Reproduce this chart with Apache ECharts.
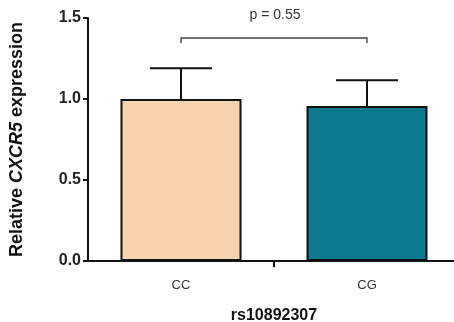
<!DOCTYPE html>
<html><head><meta charset="utf-8">
<script src="https://cdn.jsdelivr.net/npm/echarts@6/dist/echarts.min.js"></script>
<style>html,body{margin:0;padding:0;background:#fff}#c{width:454px;height:322px}</style>
</head><body><div id="c"></div>
<script>
const categories = ['CC', 'CG'];
const means = [1.0, 0.957];
const errUpper = [1.19, 1.115];
const barColors = ['#F8D3AD', '#0B7A8D'];
const yTicks = [0, 0.5, 1.0, 1.5];
const pText = 'p = 0.55';
const bracketLevel = 1.377;
const bracketDrop = 1.346;

const chart = echarts.init(document.getElementById('c'));
const font = 'Liberation Sans, Arial, sans-serif';
chart.setOption({
  animation: false,
  grid: { left: 88, top: 18, width: 372, height: 243, containLabel: false, outerBoundsMode: 'none' },
  xAxis: {
    type: 'category', data: categories,
    name: 'rs10892307', nameLocation: 'middle', nameGap: 47,
    nameTextStyle: { fontFamily: font, fontSize: 16, fontWeight: 'bold', color: '#111' },
    axisLine: { lineStyle: { color: '#111', width: 2 } },
    axisTick: { show: false },
    axisLabel: { fontFamily: font, fontSize: 13, color: '#333', margin: 18 }
  },
  yAxis: {
    type: 'value', min: yTicks[0], max: yTicks[yTicks.length - 1], interval: 0.5,
    name: '{n|Relative }{i|CXCR5}{n| expression}',
    nameLocation: 'middle', nameRotate: 90, nameGap: 62,
    nameTextStyle: {
      rich: {
        n: { fontFamily: font, fontSize: 18, fontWeight: 'bold', color: '#111' },
        i: { fontFamily: font, fontSize: 18, fontWeight: 'bold', fontStyle: 'italic', color: '#111' }
      }
    },
    axisLine: { show: true, lineStyle: { color: '#111', width: 2 } },
    axisTick: { show: true, length: 5, lineStyle: { color: '#111', width: 2 } },
    splitLine: { show: false },
    axisLabel: { fontFamily: font, fontSize: 16, fontWeight: 'bold', color: '#222', margin: 7,
      formatter: v => v.toFixed(1) }
  },
  series: [
    {
      type: 'bar', barWidth: 121,
      data: means.map((v, i) => ({ value: v, itemStyle: { color: barColors[i] } })),
      itemStyle: { borderColor: '#111', borderWidth: 2 },
      z: 2
    },
    {
      type: 'custom', z: 3,
      data: means.map((v, i) => [i, v, errUpper[i]]),
      renderItem: function (params, api) {
        const base = api.coord([api.value(0), api.value(1)]);
        const top = api.coord([api.value(0), api.value(2)]);
        const hw = 31;
        return { type: 'group', children: [
          { type: 'line', shape: { x1: base[0], y1: base[1], x2: top[0], y2: top[1] }, style: { stroke: '#111', lineWidth: 2 } },
          { type: 'line', shape: { x1: top[0] - hw, y1: top[1], x2: top[0] + hw, y2: top[1] }, style: { stroke: '#111', lineWidth: 2 } }
        ]};
      }
    },
    {
      type: 'custom', z: 3, clip: false,
      data: [[0, 1, bracketLevel, bracketDrop]],
      renderItem: function (params, api) {
        const a = api.coord([api.value(0), api.value(2)]);
        const b = api.coord([api.value(1), api.value(2)]);
        const ad = api.coord([api.value(0), api.value(3)]);
        const z0 = api.coord([api.value(0), 0]);
        const z1 = api.coord([api.value(1), 0]);
        const mx = (z0[0] + z1[0]) / 2;
        return { type: 'group', children: [
          { type: 'polyline', shape: { points: [[a[0], ad[1]], [a[0], a[1]], [b[0], b[1]], [b[0], ad[1]]] }, style: { stroke: '#444', lineWidth: 1.4, fill: null } },
          { type: 'text', style: { text: pText, x: (a[0] + b[0]) / 2 + 1, y: a[1] - 23, align: 'center', verticalAlign: 'middle', font: '14px ' + font, fill: '#333' } },
          { type: 'line', shape: { x1: mx, y1: z0[1], x2: mx, y2: z0[1] + 6 }, style: { stroke: '#111', lineWidth: 2 } }
        ]};
      }
    }
  ]
});
</script></body></html>
